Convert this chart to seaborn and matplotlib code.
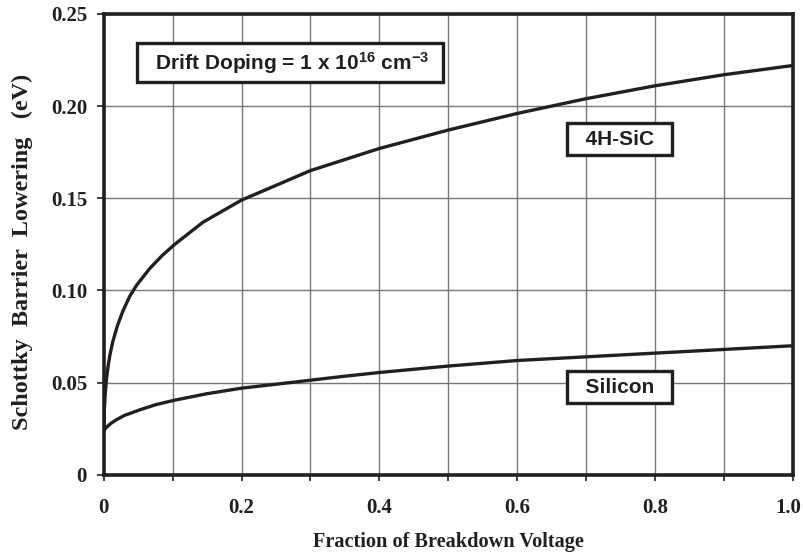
import numpy as np
import pandas as pd
import matplotlib
matplotlib.use("Agg")
import matplotlib.pyplot as plt
import matplotlib.transforms as mtransforms
from matplotlib.ticker import FixedLocator, FixedFormatter
import seaborn as sns

# values
sic_x = [0.0, 0.001, 0.002, 0.004, 0.006, 0.009, 0.013, 0.02, 0.028, 0.038, 0.048, 0.067,
         0.085, 0.103, 0.144, 0.2, 0.25, 0.3, 0.4, 0.5, 0.6, 0.7, 0.8, 0.9, 1.0]
sic_y = [0.025, 0.036, 0.043, 0.052, 0.058, 0.065, 0.072, 0.081, 0.089, 0.097, 0.103, 0.112,
         0.119, 0.125, 0.137, 0.149, 0.157, 0.165, 0.177, 0.187, 0.196, 0.204, 0.211,
         0.217, 0.222]
si_x = [0.0, 0.004, 0.01, 0.019, 0.03, 0.052, 0.075, 0.103, 0.15, 0.2, 0.27, 0.35, 0.4,
        0.5, 0.6, 0.7, 0.8, 0.9, 1.0]
si_y = [0.024, 0.0258, 0.0278, 0.0300, 0.0322, 0.0352, 0.0380, 0.0405, 0.0440, 0.0470,
        0.0500, 0.0535, 0.0555, 0.0590, 0.0620, 0.0640, 0.0660, 0.0680, 0.0700]

x_ticks = [0.0, 0.1, 0.2, 0.3, 0.4, 0.5, 0.6, 0.7, 0.8, 0.9, 1.0]
x_labels = ["0", "", "0.2", "", "0.4", "", "0.6", "", "0.8", "", "1.0"]
y_ticks = [0.0, 0.05, 0.10, 0.15, 0.20, 0.25]
y_labels = ["0", "0.05", "0.10", "0.15", "0.20", "0.25"]

df = pd.concat([
    pd.DataFrame({"frac": sic_x, "lowering": sic_y, "material": "4H-SiC"}),
    pd.DataFrame({"frac": si_x, "lowering": si_y, "material": "Silicon"}),
])

sns.set_style("white")
plt.rcParams['font.family'] = ['Liberation Serif', 'DejaVu Serif']
plt.rcParams['mathtext.fontset'] = 'custom'
plt.rcParams['mathtext.rm'] = 'Liberation Sans:bold'
plt.rcParams['mathtext.bf'] = 'Liberation Sans:bold'
plt.rcParams['mathtext.it'] = 'Liberation Sans:bold'

fig = plt.figure(figsize=(8.04, 5.56), dpi=100)
ax = fig.add_axes([0.129, 0.146, 0.857, 0.829])

sns.lineplot(data=df, x="frac", y="lowering", units="material", estimator=None,
             color="#231f20", linewidth=2.4, ax=ax, legend=False)

ax.set_xlim(0, 1.0)
ax.set_ylim(0, 0.25)
ax.xaxis.set_major_locator(FixedLocator(x_ticks))
ax.xaxis.set_major_formatter(FixedFormatter(x_labels))
ax.yaxis.set_major_locator(FixedLocator(y_ticks))
ax.yaxis.set_major_formatter(FixedFormatter(y_labels))
ax.grid(True, color="#777777", linewidth=1.0)
ax.set_axisbelow(True)
for s in ax.spines.values():
    s.set_linewidth(2.6)
    s.set_color("#231f20")
ax.tick_params(axis="both", direction="out", width=1.2, color="#231f20",
               labelsize=15, labelcolor="#231f20", bottom=True, left=True)
ax.tick_params(axis="x", length=4, pad=13)
ax.tick_params(axis="y", length=5, pad=7)
for lab in ax.get_xticklabels() + ax.get_yticklabels():
    lab.set_fontweight("bold")
# last x label sits a little inside the right edge, as in the reference
last = ax.get_xticklabels()[-1]
last.set_transform(last.get_transform() +
                   mtransforms.ScaledTranslation(-0.045, 0, fig.dpi_scale_trans))

ax.set_xlabel("Fraction of Breakdown Voltage", fontsize=14.6, fontweight="bold",
              labelpad=10, color="#231f20")
ax.set_ylabel("Schottky  Barrier  Lowering   (eV)", fontsize=17.5, fontweight="bold",
              color="#231f20")
ax.yaxis.set_label_coords(-0.102, 0.484)

sans = ['Liberation Sans', 'DejaVu Sans']
box = dict(boxstyle="square,pad=0.32", facecolor="white", edgecolor="#231f20", linewidth=2.4)
ax.text(0.27, 0.2235, r"  Drift Doping = 1 x 10$^{16}$ cm$^{-3}$  ",
        ha="center", va="center", fontsize=15, fontweight="bold", family=sans,
        color="#231f20", bbox=box)
ax.text(0.749, 0.182, "  4H-SiC  ", ha="center", va="center", fontsize=15,
        fontweight="bold", family=sans, color="#231f20", bbox=box)
ax.text(0.749, 0.0475, "  Silicon  ", ha="center", va="center", fontsize=15,
        fontweight="bold", family=sans, color="#231f20", bbox=box)

fig.savefig("out.png", dpi=100)
